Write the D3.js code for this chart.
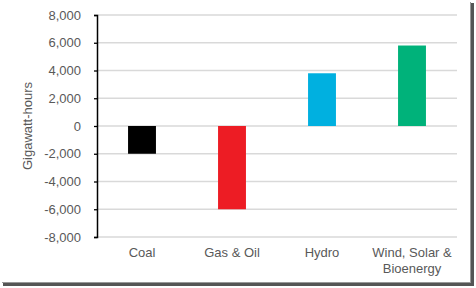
<!DOCTYPE html>
<html>
<head>
<meta charset="utf-8">
<script src="https://cdn.jsdelivr.net/npm/d3@7"></script>
<style>
  body { margin: 0; background: #fff; }
  svg text { font-family: "Liberation Sans", Arial, sans-serif; }
</style>
</head>
<body>
<svg id="chart"></svg>
<script>
const width = 476;
const height = 288;

// data
const categories = ["Coal", "Gas & Oil", "Hydro", "Wind, Solar & Bioenergy"];
const values = [-2000, -6000, 3800, 5800];
const colors = ["#000000", "#ed1c24", "#00b0e0", "#00b27a"];
const tickValues = [-8000, -6000, -4000, -2000, 0, 2000, 4000, 6000, 8000];

const margin = { top: 15, right: 19, bottom: 51, left: 97 };

const svg = d3.select("#chart").attr("width", width).attr("height", height);

// frame shadow on right and bottom
const shadow = svg.append("g");
shadow.append("rect").attr("x", 471).attr("y", 3).attr("width", 3).attr("height", 282).attr("fill", "#555");
shadow.append("rect").attr("x", 3).attr("y", 283).attr("width", 471).attr("height", 3).attr("fill", "#555");
shadow.append("rect").attr("x", 470).attr("y", 2).attr("width", 1).attr("height", 281).attr("fill", "#999");
shadow.append("rect").attr("x", 2).attr("y", 282).attr("width", 469).attr("height", 1).attr("fill", "#999");

const x = d3
  .scaleBand()
  .domain(categories)
  .range([margin.left, width - margin.right])
  .paddingInner(0.69)
  .paddingOuter(0.345);

const y = d3
  .scaleLinear()
  .domain([-8000, 8000])
  .range([height - margin.bottom, margin.top]);

// gridlines
svg
  .append("g")
  .selectAll("line")
  .data(tickValues)
  .enter()
  .append("line")
  .attr("x1", margin.left)
  .attr("x2", width - margin.right)
  .attr("y1", (d) => y(d))
  .attr("y2", (d) => y(d))
  .attr("stroke", "#d9d9d9")
  .attr("stroke-width", 1.3);

// bars
svg
  .append("g")
  .selectAll("rect")
  .data(values)
  .enter()
  .append("rect")
  .attr("x", (d, i) => x(categories[i]))
  .attr("width", x.bandwidth())
  .attr("y", (d) => y(Math.max(0, d)))
  .attr("height", (d) => Math.abs(y(d) - y(0)))
  .attr("fill", (d, i) => colors[i]);

// y axis
const yAxis = svg
  .append("g")
  .attr("transform", `translate(${margin.left},0)`)
  .call(
    d3
      .axisLeft(y)
      .tickValues(tickValues)
      .tickSize(3)
      .tickPadding(13)
      .tickFormat(d3.format(","))
  );
yAxis.select(".domain").attr("stroke", "#000").attr("stroke-width", 1.5);
yAxis.selectAll(".tick line").attr("stroke", "#000").attr("stroke-width", 1.3);
yAxis
  .selectAll(".tick text")
  .attr("fill", "#595959")
  .style("font-size", "13px")
  .text((d) => (d < 0 ? "-" + d3.format(",")(-d) : d3.format(",")(d)));

// y label
svg
  .append("text")
  .attr("transform", `translate(32,126) rotate(-90)`)
  .attr("text-anchor", "middle")
  .attr("fill", "#595959")
  .style("font-size", "13px")
  .text("Gigawatt-hours");

// category labels
const labelLines = [["Coal"], ["Gas & Oil"], ["Hydro"], ["Wind, Solar &", "Bioenergy"]];
const labels = svg
  .append("g")
  .selectAll("text")
  .data(categories)
  .enter()
  .append("text")
  .attr("text-anchor", "middle")
  .attr("fill", "#595959")
  .style("font-size", "13px")
  .attr("x", (d) => x(d) + x.bandwidth() / 2)
  .attr("y", 257);
labels
  .selectAll("tspan")
  .data((d, i) => labelLines[i])
  .enter()
  .append("tspan")
  .attr("x", function () {
    return d3.select(this.parentNode).attr("x");
  })
  .attr("dy", (d, i) => (i === 0 ? 0 : 15.5))
  .text((d) => d);
</script>
</body>
</html>
